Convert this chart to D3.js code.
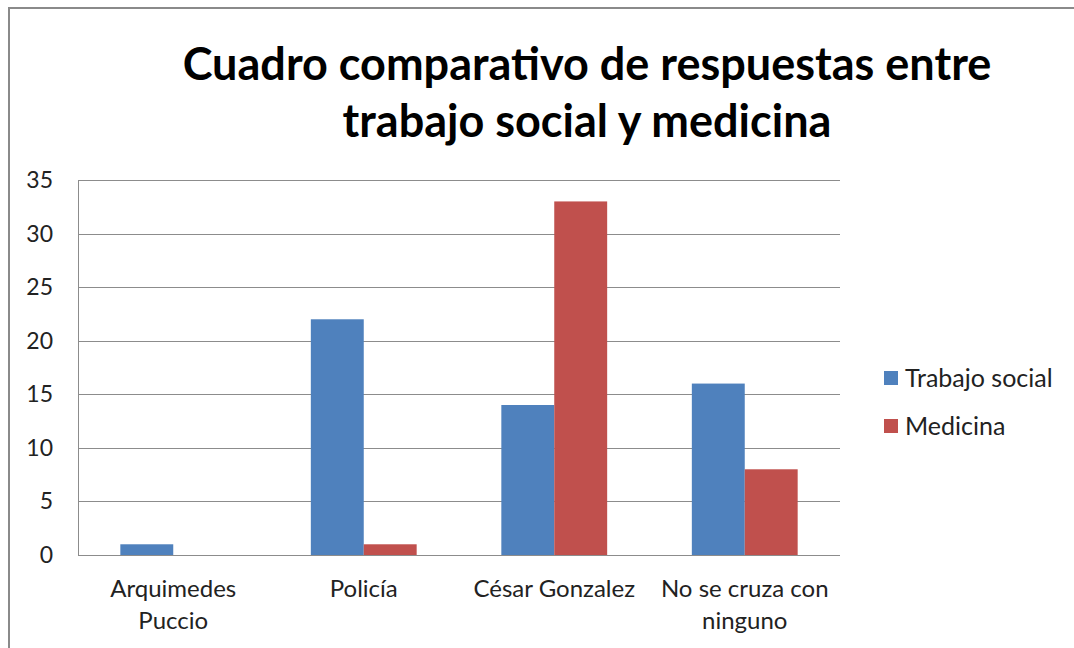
<!DOCTYPE html>
<html>
<head>
<meta charset="utf-8">
<script src="https://cdn.jsdelivr.net/npm/d3@7"></script>
<style>
  body { margin: 0; background: #fff; }
  text { font-family: Lato, "Open Sans", sans-serif; }
</style>
</head>
<body>
<div id="chart"></div>
<script>
// data
const categories = [["Arquimedes", "Puccio"], ["Policía"], ["César Gonzalez"], ["No se cruza con", "ninguno"]]
const seriesNames = ["Trabajo social", "Medicina"]
const trabajoSocial = [1, 22, 14, 16]
const medicina = [0, 1, 33, 8]
const yTicks = [0, 5, 10, 15, 20, 25, 30, 35]
const titleLines = ["Cuadro comparativo de respuestas entre", "trabajo social y medicina"]

const width = 1074
const height = 648
const plot = { left: 78, right: 840, top: 180, bottom: 555 }
const colors = ["#4F81BD", "#C0504D"]

const svg = d3.select("#chart")
  .append("svg")
  .attr("width", width)
  .attr("height", height)

// outer frame
svg.append("rect")
  .attr("x", 9).attr("y", 8)
  .attr("width", width + 20).attr("height", height + 20)
  .attr("fill", "#fff")
  .attr("stroke", "#8a8a8a")
  .attr("stroke-width", 2)

// title
svg.append("g").selectAll("text")
  .data(titleLines)
  .enter().append("text")
    .attr("x", 587)
    .attr("y", (d, i) => 80 + i * 57)
    .attr("text-anchor", "middle")
    .style("font-size", "45px")
    .style("font-weight", "bold")
    .attr("fill", "#000")
    .text(d => d)

const x0 = d3.scaleBand()
  .domain(d3.range(categories.length))
  .range([plot.left, plot.right])
  .paddingInner(0)
  .paddingOuter(0)

const x1 = d3.scaleBand()
  .domain(seriesNames)
  .range([0, x0.bandwidth()])
  .paddingOuter(0.8)
  .paddingInner(0)

const y = d3.scaleLinear()
  .domain([0, 35])
  .range([plot.bottom, plot.top])

// gridlines
svg.append("g").selectAll("line")
  .data(yTicks)
  .enter().append("line")
    .attr("x1", plot.left).attr("x2", plot.right)
    .attr("y1", d => Math.round(y(d)) + 0.5)
    .attr("y2", d => Math.round(y(d)) + 0.5)
    .attr("stroke", "#8c8c8c")
    .attr("stroke-width", 1)

// y axis line
svg.append("line")
  .attr("x1", plot.left + 0.5).attr("x2", plot.left + 0.5)
  .attr("y1", plot.top).attr("y2", plot.bottom)
  .attr("stroke", "#8c8c8c")

// y axis labels
svg.append("g").selectAll("text")
  .data(yTicks)
  .enter().append("text")
    .attr("x", 53)
    .attr("y", d => y(d))
    .attr("dy", "0.35em")
    .attr("text-anchor", "end")
    .style("font-size", "23px")
    .attr("fill", "#222")
    .text(d => d)

// bars
const series = [trabajoSocial, medicina]
series.forEach(function(vals, s) {
  svg.append("g").selectAll("rect")
    .data(vals)
    .enter().append("rect")
      .attr("x", (d, i) => x0(i) + x1(seriesNames[s]))
      .attr("width", x1.bandwidth())
      .attr("y", d => y(d))
      .attr("height", d => y(0) - y(d))
      .attr("fill", colors[s])
})

// category labels
const cat = svg.append("g").selectAll("text")
  .data(categories)
  .enter().append("text")
    .attr("x", (d, i) => x0(i) + x0.bandwidth() / 2)
    .attr("y", 597)
    .attr("text-anchor", "middle")
    .style("font-size", "24px")
    .attr("fill", "#222")
cat.selectAll("tspan")
  .data(d => d)
  .enter().append("tspan")
    .attr("x", function() { return d3.select(this.parentNode).attr("x") })
    .attr("dy", (d, i) => i === 0 ? 0 : 32)
    .text(d => d)

// legend
const legend = svg.append("g").selectAll("g")
  .data(seriesNames)
  .enter().append("g")
    .attr("transform", (d, i) => "translate(884," + (378 + i * 48) + ")")
legend.append("rect")
  .attr("x", 0).attr("y", -7)
  .attr("width", 14).attr("height", 14)
  .attr("fill", (d, i) => colors[i])
legend.append("text")
  .attr("x", 21)
  .attr("dy", "0.35em")
  .style("font-size", "25px")
  .attr("fill", "#222")
  .text(d => d)
</script>
</body>
</html>
